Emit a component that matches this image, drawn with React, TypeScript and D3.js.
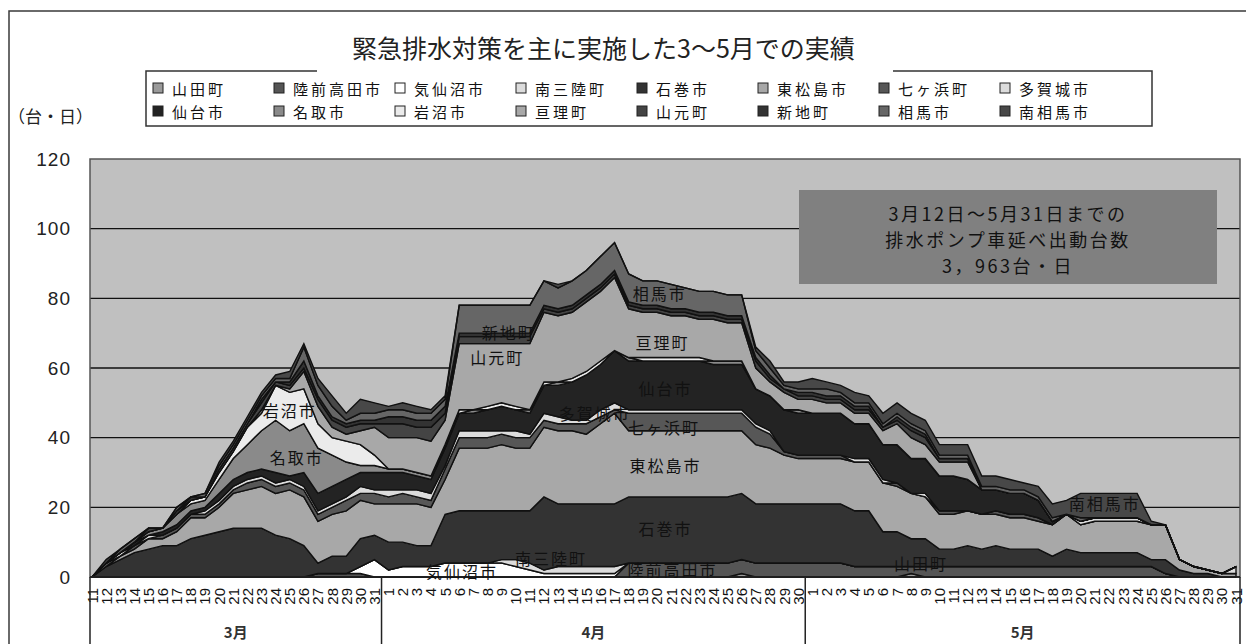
import React from 'react';
import * as d3 from 'd3';

// Category axis: days of each month (3/11 – 5/31)
const marchDays = [11, 12, 13, 14, 15, 16, 17, 18, 19, 20, 21, 22, 23, 24, 25, 26, 27, 28, 29, 30, 31];
const aprilDays = [1, 2, 3, 4, 5, 6, 7, 8, 9, 10, 11, 12, 13, 14, 15, 16, 17, 18, 19, 20, 21, 22, 23, 24, 25, 26, 27, 28, 29, 30];
const mayDays = [1, 2, 3, 4, 5, 6, 7, 8, 9, 10, 11, 12, 13, 14, 15, 16, 17, 18, 19, 20, 21, 22, 23, 24, 25, 26, 27, 28, 29, 30, 31];
const monthLabels = ['3月', '4月', '5月'];

const yTicks = [0, 20, 40, 60, 80, 100, 120];

// Municipalities, stacked bottom to top
const seriesNames = [
  '山田町', '陸前高田市', '気仙沼市', '南三陸町', '石巻市', '東松島市', '七ヶ浜町', '多賀城市',
  '仙台市', '名取市', '岩沼市', '亘理町', '山元町', '新地町', '相馬市', '南相馬市',
];

// Pump trucks deployed per day (台), March | April | May
const yamada = [
  0, 0, 0, 0, 0, 0, 0, 0, 0, 0, 0, 0, 0, 0, 0, 0, 0, 0, 0, 0, 0,
  0, 0, 0, 0, 0, 0, 0, 0, 0, 0, 0, 0, 0, 0, 0, 0, 0, 0, 0, 0, 0, 0, 0, 0, 0, 1, 0, 0, 0, 0,
  0, 0, 0, 0, 0, 0, 0, 1, 0, 0, 0, 0, 0, 0, 0, 0, 0, 0, 0, 0, 0, 0, 0, 0, 0, 0, 0, 0, 0, 0, 0,
];
const rikuzentakata = [
  0, 0, 0, 0, 0, 0, 0, 0, 0, 0, 0, 0, 0, 0, 0, 0, 1, 1, 1, 1, 0,
  0, 0, 0, 0, 0, 0, 0, 0, 0, 0, 0, 0, 0, 0, 0, 0, 0, 4, 4, 4, 4, 4, 4, 4, 4, 4, 4, 4, 4, 4,
  4, 4, 4, 3, 3, 3, 3, 2, 3, 3, 3, 3, 3, 3, 3, 3, 3, 3, 3, 3, 3, 3, 3, 3, 3, 1, 0, 0, 0, 0, 0,
];
const kesennuma = [
  0, 0, 0, 0, 0, 0, 0, 0, 0, 0, 0, 0, 0, 0, 0, 0, 0, 0, 0, 2, 5,
  2, 3, 3, 3, 4, 4, 4, 4, 4, 3, 2, 1, 1, 1, 1, 1, 1, 0, 0, 0, 0, 0, 0, 0, 0, 0, 0, 0, 0, 0,
  0, 0, 0, 0, 0, 0, 0, 0, 0, 0, 0, 0, 0, 0, 0, 0, 0, 0, 0, 0, 0, 0, 0, 0, 0, 0, 0, 0, 0, 0, 0,
];
const minamisanriku = [
  0, 0, 0, 0, 0, 0, 0, 0, 0, 0, 0, 0, 0, 0, 0, 0, 0, 0, 0, 0, 0,
  0, 0, 0, 0, 0, 0, 0, 0, 1, 2, 2, 1, 2, 2, 2, 2, 2, 0, 0, 0, 0, 0, 0, 0, 0, 0, 0, 0, 0, 0,
  0, 0, 0, 0, 0, 0, 0, 0, 0, 0, 0, 0, 0, 0, 0, 0, 0, 0, 0, 0, 0, 0, 0, 0, 0, 0, 0, 0, 0, 0, 0,
];
const ishinomaki = [
  0, 3, 5, 7, 8, 9, 9, 11, 12, 13, 14, 14, 14, 12, 11, 9, 3, 5, 5, 8, 7,
  8, 7, 6, 6, 14, 15, 15, 15, 14, 14, 15, 21, 18, 18, 18, 18, 18, 19, 19, 19, 19, 19, 19, 19, 19, 19, 17, 17, 17, 17,
  17, 17, 17, 16, 16, 10, 10, 8, 8, 5, 5, 6, 5, 6, 5, 5, 5, 3, 5, 4, 4, 4, 4, 4, 2, 4, 2, 1, 1, 0, 0,
];
const higashimatsushima = [
  0, 0, 1, 1, 3, 2, 4, 6, 5, 7, 10, 11, 12, 12, 14, 14, 12, 12, 13, 11, 9,
  11, 11, 12, 11, 10, 18, 18, 18, 19, 18, 18, 20, 21, 21, 20, 23, 26, 19, 19, 19, 19, 19, 19, 19, 19, 18, 17, 16, 14, 13,
  13, 13, 13, 14, 14, 14, 13, 13, 12, 10, 10, 10, 10, 9, 9, 9, 8, 9, 10, 8, 9, 9, 9, 9, 10, 10, 3, 2, 1, 1, 1,
];
const shichigahama = [
  0, 1, 0, 1, 0, 1, 1, 1, 1, 1, 1, 2, 2, 2, 2, 2, 2, 2, 3, 2, 3,
  2, 3, 2, 2, 3, 3, 3, 3, 3, 3, 3, 2, 2, 2, 3, 2, 1, 5, 5, 5, 5, 5, 5, 5, 5, 5, 5, 4, 1, 1,
  1, 1, 1, 0, 0, 0, 1, 0, 0, 1, 1, 0, 0, 1, 1, 1, 1, 0, 0, 0, 0, 0, 0, 0, 0, 0, 0, 0, 0, 0, 0,
];
const tagajo = [
  0, 0, 1, 0, 1, 0, 0, 0, 1, 1, 1, 1, 1, 1, 1, 1, 1, 1, 1, 2, 1,
  2, 1, 2, 2, 1, 2, 2, 2, 1, 2, 1, 2, 2, 1, 1, 2, 2, 1, 1, 1, 1, 1, 1, 1, 1, 1, 1, 1, 0, 0,
  0, 0, 0, 1, 1, 1, 0, 0, 1, 0, 0, 0, 0, 0, 0, 0, 0, 0, 0, 1, 1, 1, 1, 1, 0, 0, 0, 0, 0, 0, 2,
];
const sendai = [
  0, 0, 0, 1, 0, 1, 1, 1, 1, 2, 2, 2, 2, 3, 1, 4, 5, 5, 5, 4, 5,
  5, 5, 4, 4, 5, 5, 5, 6, 7, 6, 6, 8, 9, 11, 13, 13, 15, 14, 14, 14, 14, 14, 14, 13, 13, 13, 10, 10, 12, 12,
  12, 12, 12, 10, 10, 10, 11, 10, 10, 10, 10, 9, 7, 6, 6, 6, 5, 1, 0, 0, 0, 0, 0, 0, 0, 0, 0, 0, 0, 0, 0,
];
const natori = [
  0, 0, 0, 0, 1, 1, 3, 2, 2, 4, 6, 8, 11, 15, 13, 14, 13, 9, 5, 2, 2,
  1, 1, 1, 1, 1, 0, 1, 0, 0, 0, 1, 0, 1, 0, 0, 0, 0, 1, 0, 0, 0, 0, 0, 1, 1, 1, 0, 0, 0, 1,
  0, 0, 0, 0, 0, 0, 0, 0, 0, 0, 0, 0, 0, 0, 0, 0, 0, 0, 0, 0, 0, 0, 0, 0, 0, 0, 0, 0, 0, 0, 0,
];
const iwanuma = [
  0, 0, 0, 0, 0, 0, 0, 1, 1, 2, 2, 5, 5, 10, 11, 10, 7, 5, 6, 6, 3,
  0, 0, 0, 0, 0, 1, 0, 1, 1, 1, 0, 1, 0, 1, 1, 1, 0, 0, 1, 1, 1, 1, 1, 0, 0, 0, 0, 0, 0, 0,
  0, 0, 0, 0, 0, 0, 0, 0, 0, 0, 0, 0, 0, 0, 0, 0, 0, 0, 0, 0, 0, 0, 0, 0, 0, 0, 0, 0, 0, 0, 0,
];
const watari = [
  0, 0, 0, 0, 0, 0, 0, 0, 0, 0, 0, 0, 1, 0, 1, 5, 5, 3, 2, 4, 8,
  9, 9, 10, 10, 7, 19, 19, 18, 17, 18, 19, 20, 19, 19, 20, 20, 21, 14, 13, 13, 12, 12, 11, 12, 11, 11, 6, 4, 5, 3,
  4, 3, 3, 3, 3, 4, 6, 6, 4, 4, 4, 5, 0, 0, 0, 0, 0, 0, 0, 0, 0, 0, 0, 0, 0, 0, 0, 0, 0, 0, 0,
];
const yamamoto = [
  0, 0, 0, 0, 1, 0, 1, 0, 0, 1, 1, 1, 2, 1, 1, 1, 2, 2, 2, 2, 1,
  4, 4, 3, 4, 2, 2, 2, 2, 2, 2, 2, 1, 1, 1, 1, 1, 1, 1, 1, 1, 1, 1, 1, 1, 1, 1, 2, 1, 1, 1,
  1, 1, 1, 1, 1, 1, 1, 2, 2, 1, 1, 1, 0, 0, 0, 0, 0, 0, 0, 0, 0, 0, 0, 0, 0, 0, 0, 0, 0, 0, 0,
];
const shinchi = [
  0, 0, 0, 0, 0, 0, 0, 1, 0, 0, 0, 0, 1, 0, 1, 2, 1, 1, 1, 1, 1,
  2, 2, 2, 2, 2, 1, 1, 1, 1, 1, 1, 1, 1, 1, 1, 1, 1, 1, 1, 1, 1, 1, 1, 1, 1, 1, 1, 1, 0, 1,
  1, 1, 1, 1, 1, 0, 1, 1, 1, 0, 0, 0, 0, 0, 0, 0, 0, 0, 0, 0, 0, 0, 0, 0, 0, 0, 0, 0, 0, 0, 0,
];
const soma = [
  0, 0, 1, 1, 0, 0, 1, 0, 1, 1, 1, 1, 1, 1, 1, 4, 3, 3, 1, 2, 2,
  2, 2, 2, 2, 2, 8, 8, 8, 8, 8, 8, 7, 6, 7, 7, 8, 8, 8, 7, 7, 7, 6, 6, 6, 6, 6, 2, 2, 1, 1,
  1, 2, 1, 1, 1, 1, 1, 1, 1, 1, 1, 1, 1, 1, 1, 1, 1, 1, 0, 1, 0, 0, 0, 0, 0, 0, 0, 0, 0, 0, 0,
];
const minamisoma = [
  0, 1, 0, 0, 0, 0, 0, 0, 0, 1, 1, 1, 1, 1, 2, 1, 2, 3, 2, 4, 3,
  1, 2, 2, 1, 1, 0, 0, 0, 0, 0, 0, 0, 1, 0, 0, 0, 0, 0, 0, 0, 0, 0, 0, 0, 0, 0, 1, 2, 1, 2,
  3, 2, 2, 3, 2, 3, 3, 3, 3, 3, 3, 3, 3, 3, 3, 2, 3, 4, 4, 7, 7, 7, 7, 7, 1, 0, 0, 0, 0, 0, 0,
];

const seriesValues = [
  yamada, rikuzentakata, kesennuma, minamisanriku, ishinomaki, higashimatsushima, shichigahama, tagajo,
  sendai, natori, iwanuma, watari, yamamoto, shinchi, soma, minamisoma,
];

// Grey fills per municipality
const fills = [
  '#9a9a9a', '#555555', '#ffffff', '#dcdcdc', '#333333', '#a8a8a8', '#575757', '#dcdcdc',
  '#232323', '#8a8a8a', '#ebebeb', '#a8a8a8', '#444444', '#333333', '#666666', '#484848',
];

// In-chart name labels: [name, category position, value]
const areaLabels: [string, number, number][] = [
  ['岩沼市', 14.0, 47.9],
  ['名取市', 14.5, 34.5],
  ['新地町', 29.5, 70.3],
  ['山元町', 28.7, 63.2],
  ['多賀城市', 35.6, 47.1],
  ['相馬市', 40.2, 81.5],
  ['亘理町', 40.4, 67.5],
  ['仙台市', 40.6, 54.3],
  ['七ヶ浜町', 40.5, 43.1],
  ['東松島市', 40.6, 32.2],
  ['石巻市', 40.6, 14.1],
  ['南三陸町', 32.5, 5.5],
  ['気仙沼市', 26.2, 1.7],
  ['陸前高田市', 41.1, 2.3],
  ['山田町', 58.7, 4.0],
  ['南相馬市', 71.7, 21.2],
];

const noteLines = ['3月12日～5月31日までの', '排水ポンプ車延べ出動台数', '3，963台・日'];
const titleText = '緊急排水対策を主に実施した3～5月での実績';
const unitText = '（台・日）';

const JP = "'Noto Sans CJK JP', 'Noto Sans', sans-serif";
const LAT = "'Liberation Sans', Arial, sans-serif";

export default function App() {
  const W = 1246;
  const H = 644;
  const plot = { left: 90, right: 1240, top: 159, bottom: 577 };
  const months = [marchDays, aprilDays, mayDays];
  const days = months.flat();
  const n = days.length;

  const x = d3.scaleLinear().domain([0, n - 1]).range([92, 1236]);
  const y = d3.scaleLinear().domain([0, 120]).range([plot.bottom, plot.top]);

  const table = days.map((_, i) => {
    const row: Record<string, number> = { i };
    seriesNames.forEach((name, k) => (row[name] = seriesValues[k][i]));
    return row;
  });
  const stacked = d3.stack<Record<string, number>>().keys(seriesNames)(table);
  const area = d3
    .area<d3.SeriesPoint<Record<string, number>>>()
    .x((d) => x(d.data.i))
    .y0((d) => y(d[0]))
    .y1((d) => y(d[1]));

  // month blocks on the category axis
  const starts: number[] = [];
  let acc = 0;
  months.forEach((m) => {
    starts.push(acc);
    acc += m.length;
  });
  const seps = [plot.left];
  for (let k = 1; k < months.length; k++) seps.push((x(starts[k] - 1) + x(starts[k])) / 2);
  seps.push(plot.right);

  const legendCols = 8;
  const legendX0 = 153;
  const legendStep = 121;
  const legendRows = [88, 111];

  return (
    <svg
      width={W}
      height={H}
      style={{ position: 'absolute', left: 0, top: 0, display: 'block', background: '#fff' }}
    >
      {/* chart frame */}
      <rect x={9} y={11} width={1260} height={700} fill="#fff" stroke="#3a3a3a" strokeWidth={1.5} />

      {/* legend */}
      <rect x={146} y={71} width={1006} height={55} fill="#fff" stroke="#333" strokeWidth={1.5} />
      {seriesNames.map((name, k) => {
        const c = k % legendCols;
        const r = Math.floor(k / legendCols);
        const lx = legendX0 + c * legendStep;
        const ly = legendRows[r];
        return (
          <g key={name}>
            <rect x={lx} y={ly - 5} width={10} height={10} fill={fills[k]} stroke="#222" strokeWidth={1} />
            <text
              x={lx + 19}
              y={ly}
              fontFamily={JP}
              fontSize={15}
              letterSpacing={3}
              dominantBaseline="central"
              fill="#111"
            >
              {name}
            </text>
          </g>
        );
      })}

      {/* title (its box hides part of the legend frame) */}
      <rect x={317} y={24} width={576} height={48.5} fill="#fff" />
      <text x={352} y={47} fontFamily={JP} fontSize={25} dominantBaseline="central" fill="#222">
        {titleText}
      </text>

      {/* unit */}
      <text x={8} y={115} fontFamily={JP} fontSize={17} dominantBaseline="central" fill="#222">
        {unitText}
      </text>

      {/* plot area */}
      <rect
        x={plot.left}
        y={plot.top}
        width={plot.right - plot.left}
        height={plot.bottom - plot.top}
        fill="#c0c0c0"
      />
      {yTicks
        .filter((t) => t > 0 && t < 120)
        .map((t) => (
          <line key={t} x1={plot.left} x2={plot.right} y1={y(t)} y2={y(t)} stroke="#111" strokeWidth={1.3} />
        ))}

      {/* stacked areas */}
      {stacked.map((s, k) => (
        <path
          key={s.key}
          d={area(s) || ''}
          fill={fills[k]}
          stroke="#111"
          strokeWidth={1.4}
          strokeLinejoin="miter"
        />
      ))}

      <rect
        x={plot.left}
        y={plot.top}
        width={plot.right - plot.left}
        height={plot.bottom - plot.top}
        fill="none"
        stroke="#555"
        strokeWidth={1.5}
      />
      <line x1={plot.left} x2={plot.right} y1={plot.bottom} y2={plot.bottom} stroke="#111" strokeWidth={1.5} />

      {/* y tick labels */}
      {yTicks.map((t) => (
        <text
          key={t}
          x={71}
          y={y(t)}
          fontFamily={LAT}
          fontSize={19}
          letterSpacing={1}
          textAnchor="end"
          dominantBaseline="central"
          fill="#222"
        >
          {t}
        </text>
      ))}

      {/* area name labels */}
      {areaLabels.map(([name, pos, v]) => (
        <text
          key={name}
          x={x(pos)}
          y={y(v)}
          fontFamily={JP}
          fontSize={16}
          letterSpacing={2}
          textAnchor="middle"
          dominantBaseline="central"
          fill="#111"
        >
          {name}
        </text>
      ))}

      {/* total note */}
      <rect x={799} y={190} width={418} height={94} fill="#808080" />
      {noteLines.map((t, k) => (
        <text
          key={k}
          x={1008}
          y={213 + k * 26}
          fontFamily={JP}
          fontSize={18}
          letterSpacing={2.5}
          textAnchor="middle"
          dominantBaseline="central"
          fill="#111"
        >
          {t}
        </text>
      ))}

      {/* category axis: days */}
      {days.map((d, i) => (
        <text
          key={i}
          transform={`translate(${x(i)},588) rotate(-90)`}
          fontFamily={LAT}
          fontSize={15}
          textAnchor="end"
          dominantBaseline="central"
          fill="#111"
        >
          {d}
        </text>
      ))}

      {/* category axis: months */}
      {seps.map((sx, k) => (
        <line key={k} x1={sx} x2={sx} y1={plot.bottom} y2={H + 5} stroke="#222" strokeWidth={1.5} />
      ))}
      {monthLabels.map((m, k) => (
        <text
          key={m}
          x={(seps[k] + seps[k + 1]) / 2}
          y={631}
          fontFamily={JP}
          fontSize={15}
          fontWeight="bold"
          textAnchor="middle"
          dominantBaseline="central"
          fill="#333"
        >
          {m}
        </text>
      ))}
    </svg>
  );
}
